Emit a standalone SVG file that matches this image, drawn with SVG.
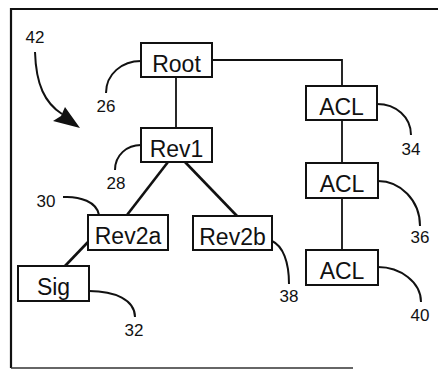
<svg xmlns="http://www.w3.org/2000/svg" width="438" height="369" viewBox="0 0 438 369">
<style>
.box{fill:#fff;stroke:#111;stroke-width:2}
.lbl{font-family:"Liberation Sans",Arial,sans-serif;font-size:23px;fill:#111;text-anchor:middle}
.num{font-family:"Liberation Sans",Arial,sans-serif;font-size:17px;fill:#111;text-anchor:middle}
.ln{fill:none;stroke:#111;stroke-width:1.8}
.dg{fill:none;stroke:#111;stroke-width:2.6}
.ld{fill:none;stroke:#111;stroke-width:2}
</style>
<rect width="438" height="369" fill="#fff"/>
<g id="frame">
<path d="M11,368 L11,9 L438,9" fill="none" stroke="#111" stroke-width="2.2"/>
<path d="M11,368 L353,368" fill="none" stroke="#333" stroke-width="1.6"/>
</g>
<g id="connectors">
<path class="ln" d="M212,60 H342 V86"/>
<path class="ln" d="M176,77 V128"/>
<path class="dg" d="M168,162 L127,215"/>
<path class="dg" d="M185,162 L237,216"/>
<path class="dg" d="M88,242 L65,266"/>
<path class="ln" d="M342,120 V163"/>
<path class="ln" d="M342,198 V250"/>
</g>
<g id="leaders">
<path class="ld" d="M106,93 C106,74 122,61 141,61"/>
<path class="ld" d="M115,170 C115,155 127,145 141,145"/>
<path class="ld" d="M63,197 C80,196 97,202 99,215"/>
<path class="ld" d="M89,291 C115,291 135,300 135,317"/>
<path class="ld" d="M272,241 C283,246 289,262 289,284"/>
<path class="ld" d="M377,104 C396,104 411,117 411,135"/>
<path class="ld" d="M378,181 C400,181 420,200 420,226"/>
<path class="ld" d="M378,267 C400,267 421,282 421,302"/>
</g>
<g id="arrow42">
<path class="ld" d="M35,52 C36,85 45,103 62,114"/>
<polygon points="80,128 53,121 61,116 65,107" fill="#111"/>
</g>
<g id="root"><rect class="box" x="141" y="43" width="71" height="34"/><text class="lbl" x="176.5" y="72">Root</text></g>
<g id="rev1"><rect class="box" x="141" y="128" width="71" height="34"/><text class="lbl" x="176.5" y="157">Rev1</text></g>
<g id="rev2a"><rect class="box" x="88" y="215" width="80" height="35"/><text class="lbl" x="128" y="244">Rev2a</text></g>
<g id="rev2b"><rect class="box" x="193" y="216" width="79" height="34"/><text class="lbl" x="232.5" y="245">Rev2b</text></g>
<g id="sig"><rect class="box" x="18" y="266" width="71" height="35"/><text class="lbl" x="53.5" y="295">Sig</text></g>
<g id="acl1"><rect class="box" x="306" y="86" width="71" height="34"/><text class="lbl" x="341.5" y="115">ACL</text></g>
<g id="acl2"><rect class="box" x="306" y="163" width="72" height="35"/><text class="lbl" x="342" y="192">ACL</text></g>
<g id="acl3"><rect class="box" x="306" y="250" width="72" height="35"/><text class="lbl" x="342" y="279">ACL</text></g>
<g id="labels">
<text class="num" x="35" y="43">42</text>
<text class="num" x="106" y="112">26</text>
<text class="num" x="116" y="189">28</text>
<text class="num" x="46" y="207">30</text>
<text class="num" x="134" y="336">32</text>
<text class="num" x="289" y="302">38</text>
<text class="num" x="411" y="155">34</text>
<text class="num" x="420" y="243">36</text>
<text class="num" x="420" y="321">40</text>
</g>
</svg>
